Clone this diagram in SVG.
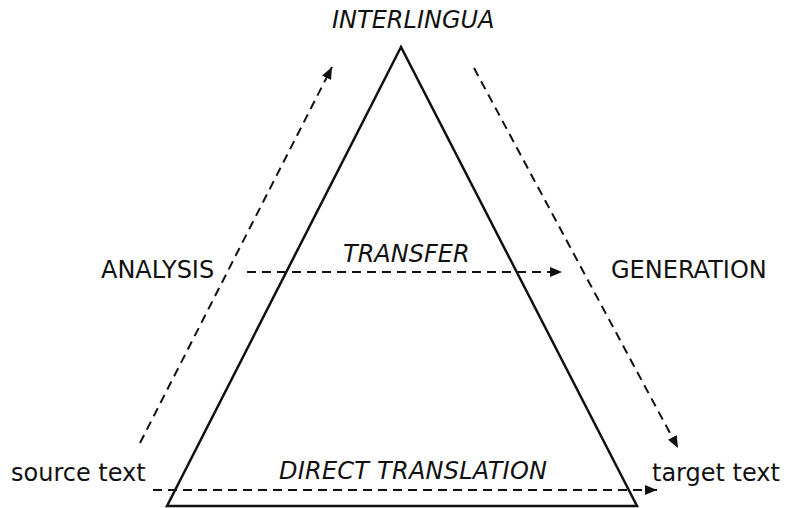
<svg xmlns="http://www.w3.org/2000/svg" width="786" height="508" viewBox="0 0 786 508">
<style>
.t{font-family:"DejaVu Sans",sans-serif;font-size:24px;fill:#111}
.i{font-style:italic}
.d{fill:none;stroke:#111;stroke-width:2;stroke-dasharray:9,6}
</style>
<defs>
<marker id="ah" viewBox="0 0 12 10" refX="12" refY="5" markerWidth="12" markerHeight="10" markerUnits="userSpaceOnUse" orient="auto">
<path d="M0,0 L12,5 L0,10 Z" fill="#111"/>
</marker>
</defs>
<rect width="786" height="508" fill="#fff"/>
<g id="triangle">
<path d="M401,47 L167,506 L637,506 Z" fill="none" stroke="#111" stroke-width="2.5" stroke-linejoin="miter"/>
</g>
<g id="connectors">
<line class="d" x1="140" y1="443" x2="332" y2="67" marker-end="url(#ah)"/>
<line class="d" x1="474" y1="68" x2="678" y2="448" marker-end="url(#ah)"/>
<line class="d" x1="247" y1="272" x2="562" y2="272" marker-end="url(#ah)"/>
<line class="d" x1="153" y1="490" x2="657" y2="490" marker-end="url(#ah)"/>
</g>
<g id="labels">
<text class="t i" x="332" y="28">INTERLINGUA</text>
<text class="t i" x="343" y="262">TRANSFER</text>
<text class="t" x="101" y="278">ANALYSIS</text>
<text class="t" x="611" y="278">GENERATION</text>
<text class="t" x="11" y="481">source text</text>
<text class="t i" x="279" y="479" textLength="268">DIRECT TRANSLATION</text>
<text class="t" x="652" y="481">target text</text>
</g>
</svg>
